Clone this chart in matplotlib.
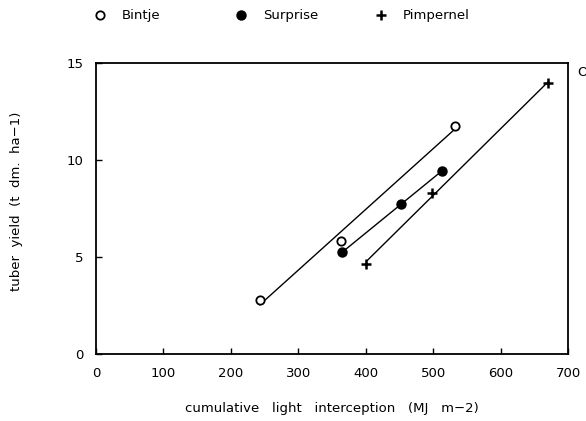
import matplotlib.pyplot as plt
import numpy as np

plt.rcParams["font.size"] = 9.5
plt.rcParams["font.family"] = "sans-serif"
plt.rcParams["font.sans-serif"] = "DejaVu Sans"

# cumulative light interception (MJ m-2) and tuber yield (t dm ha-1)
bintje_x = np.array([243, 363, 532])
bintje_y = np.array([2.8, 5.85, 11.77])
surprise_x = np.array([365, 452, 513])
surprise_y = np.array([5.24, 7.72, 9.43])
pimpernel_x = np.array([401, 498, 671])
pimpernel_y = np.array([4.64, 8.32, 13.97])

series = [
    ("Bintje", bintje_x, bintje_y, dict(marker="o", mfc="white", mec="black", ms=6, mew=1.3)),
    ("Surprise", surprise_x, surprise_y, dict(marker="o", mfc="black", mec="black", ms=6.5)),
    ("Pimpernel", pimpernel_x, pimpernel_y, dict(marker="+", mec="black", ms=7, mew=1.8)),
]

fig = plt.figure(figsize=(5.86, 4.21), dpi=100)
ax = fig.add_axes([0.1638, 0.1591, 0.8055, 0.6913])

for name, x, y, style in series:
    # fitted regression line over the measured range
    b, a = np.polyfit(x, y, 1)
    xx = np.array([x.min(), x.max()])
    ax.plot(xx, a + b * xx, color="black", lw=1.0)
    ax.plot(x, y, ls="none", **style)

ax.set_xlim(0, 700)
ax.set_ylim(0, 15)
ax.set_xticks(np.arange(0, 701, 100))
ax.set_yticks([0, 5, 10, 15])
ax.tick_params(direction="in", length=4, width=1.0, pad=9)
for s in ax.spines.values():
    s.set_linewidth(1.3)

ax.set_xlabel("cumulative   light   interception   (MJ   m\u22122)", labelpad=16)
fig.text(0.029, 0.5226, "tuber  yield  (t  dm.  ha\u22121)", rotation=90,
         ha="center", va="center")

# legend row across the top
legend_y = 1 - 15 / 421
for (name, x, y, style), mx in zip(series, [100, 241, 381]):
    fig.lines.append(plt.Line2D([mx / 586], [legend_y], transform=fig.transFigure,
                                ls="none", **style))
    fig.text((mx + 22) / 586, legend_y, name, ha="left", va="center")

fig.text(577 / 586, 1 - 73 / 421, "O", ha="left", va="center")

plt.savefig("out.png")
